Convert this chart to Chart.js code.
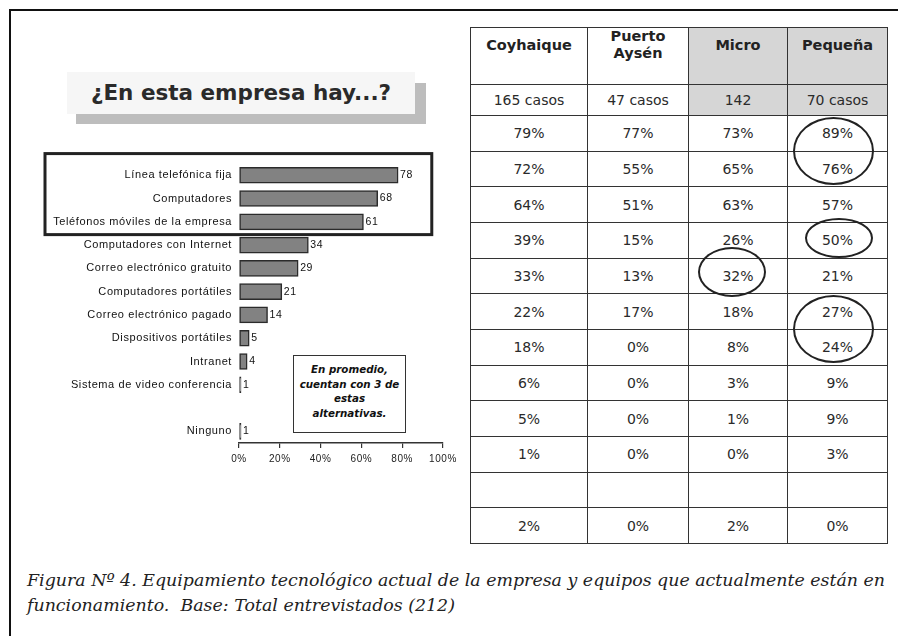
<!DOCTYPE html>
<html><head><meta charset="utf-8">
<script src="https://cdn.jsdelivr.net/npm/chart.js@4"></script>
<style>
html,body{margin:0;padding:0;background:#fff;}
#page{position:relative;width:898px;height:636px;overflow:hidden;background:#fff;font-family:"DejaVu Sans",sans-serif;}
.abs{position:absolute;}
#frameTop{left:9px;top:9px;width:889px;height:2px;background:#111;}
#frameLeft{left:9px;top:9px;width:2px;height:627px;background:#111;}
#titleShadow{left:76px;top:83px;width:350px;height:41px;background:#bdbdbd;}
#titleBox{left:67px;top:72px;width:348px;height:42px;background:#f6f6f6;font:bold 21.5px "DejaVu Sans";color:#2a2a2a;text-align:center;line-height:42px;}
#chartWrap{left:10px;top:150px;width:455px;height:330px;}
#note{left:293px;top:355px;width:111px;height:70px;padding-top:6px;border:1.5px solid #333;background:#fff;font:bold italic 10.3px "DejaVu Sans";color:#111;text-align:center;line-height:14.5px;white-space:nowrap;}
#tbl{left:470px;top:27px;border-collapse:collapse;table-layout:fixed;color:#2a2a2a;}
#tbl td{border:1.5px solid #333;text-align:center;vertical-align:middle;padding:0;font:14px "DejaVu Sans";}
#tbl tr.head td{font:bold 14.5px "DejaVu Sans";color:#222;line-height:17px;padding-bottom:22px;}
#tbl td.gray{background:#d6d6d6;}
#caption{left:27px;top:568px;font:italic 17.4px "DejaVu Serif";color:#222;line-height:25px;white-space:nowrap;}
.ell{position:absolute;border:2px solid #222;border-radius:50%;box-sizing:border-box;}
</style>
</head>
<body>
<div id="page">
  <div id="frameTop" class="abs"></div>
  <div id="frameLeft" class="abs"></div>
  <div id="titleShadow" class="abs"></div>
  <div id="titleBox" class="abs">¿En esta empresa hay...?</div>
  <div id="chartWrap" class="abs"><canvas id="c"></canvas></div>
  <div id="note" class="abs">En promedio,<br>cuentan con 3 de<br>estas<br>alternativas.</div>
  <table id="tbl" class="abs"></table>
  <div id="caption" class="abs">Figura Nº 4. Equipamiento tecnológico actual de la empresa y equipos que actualmente están en<br>funcionamiento.&nbsp; Base: Total entrevistados (212)</div>
</div>
<script>
// ---- data ----
const categories = ["Línea telefónica fija","Computadores","Teléfonos móviles de la empresa","Computadores con Internet","Correo electrónico gratuito","Computadores portátiles","Correo electrónico pagado","Dispositivos portátiles","Intranet","Sistema de video conferencia","","Ninguno"];
const totalPct = [78,68,61,34,29,21,14,5,4,1,null,1];
const xTicks = [0,20,40,60,80,100];

const tableColumns = ["Coyhaique","Puerto Aysén","Micro","Pequeña"];
const tableCases = ["165 casos","47 casos","142","70 casos"];
const coyhaique = [79,72,64,39,33,22,18,6,5,1,null,2];
const puertoAysen = [77,55,51,15,13,17,0,0,0,0,null,0];
const micro = [73,65,63,26,32,18,8,3,1,0,null,2];
const pequena = [89,76,57,50,21,27,24,9,9,3,null,0];
const grayColumns = [2,3];
// highlighted (circled) cells: column index, first row, last row
const circled = [
  {col:3, r0:0, r1:1},
  {col:3, r0:3, r1:3},
  {col:2, r0:4, r1:4},
  {col:3, r0:5, r1:6}
];

// ---- table ----
const tbl = document.getElementById('tbl');
const colW = [117,101,99,100];
const cg = document.createElement('colgroup');
colW.forEach(w=>{const c=document.createElement('col');c.style.width=w+'px';cg.appendChild(c);});
tbl.appendChild(cg);
function addRow(cells, cls, h){
  const tr=document.createElement('tr'); if(cls) tr.className=cls; tr.style.height=h+'px';
  cells.forEach((t,i)=>{const td=document.createElement('td');td.textContent=t;
    if(cls && grayColumns.includes(i)) td.classList.add('gray'); tr.appendChild(td);});
  tbl.appendChild(tr); return tr;
}
addRow(tableColumns,'head',56);
addRow(tableCases,'cases',31);
const cols=[coyhaique,puertoAysen,micro,pequena];
const dataRows=[];
for(let r=0;r<coyhaique.length;r++){
  dataRows.push(addRow(cols.map(c=>c[r]==null?'':c[r]+'%'),'',35.67));
}

// circles
const page=document.getElementById('page');
const pr=page.getBoundingClientRect();
circled.forEach(o=>{
  const a=dataRows[o.r0].children[o.col].getBoundingClientRect();
  const b=dataRows[o.r1].children[o.col].getBoundingClientRect();
  const single=o.r0===o.r1;
  const w=single?68:81;
  const h=single?(o.col===2?50:40):68;
  const cx=(a.left+a.right)/2-pr.left+(single?(o.col===2?-6:1):-4);
  const cy=(a.top+b.bottom)/2-pr.top+(single?(o.col===2?-4:-2):0);
  const e=document.createElement('div'); e.className='ell';
  e.style.left=(cx-w/2)+'px'; e.style.top=(cy-h/2)+'px'; e.style.width=w+'px'; e.style.height=h+'px';
  page.appendChild(e);
});

// ---- chart ----
const spacing={id:'spacing',beforeDraw(chart){chart.ctx.letterSpacing='0.6px';},afterDraw(chart){chart.ctx.letterSpacing='0px';}};
const valueLabels={id:'valueLabels',afterDatasetsDraw(chart){
  const ctx=chart.ctx; const meta=chart.getDatasetMeta(0);
  ctx.save(); ctx.font='10.5px "Liberation Sans"'; ctx.fillStyle='#111'; ctx.textBaseline='middle'; ctx.textAlign='left';
  meta.data.forEach((el,i)=>{ if(totalPct[i]==null) return; ctx.fillText(String(totalPct[i]), el.x+2, el.y); });
  ctx.restore();
}};
const groupBox={id:'groupBox',afterDraw(chart){
  const y=chart.scales.y, x=chart.scales.x, ctx=chart.ctx;
  const band=y.getPixelForValue(1)-y.getPixelForValue(0);
  const top=y.getPixelForValue(0)-band*0.93, bottom=y.getPixelForValue(2)+band*0.55;
  const left=35, right=x.getPixelForValue(94.5);
  ctx.save(); ctx.strokeStyle='#222'; ctx.lineWidth=3; ctx.strokeRect(left,top,right-left,bottom-top); ctx.restore();
}};
new Chart(document.getElementById('c'),{
  type:'bar',
  data:{labels:categories,datasets:[{data:totalPct,backgroundColor:'#828282',borderColor:'#2b2b2b',borderWidth:1.5,borderSkipped:false,barThickness:16}]},
  options:{
    indexAxis:'y',responsive:true,maintainAspectRatio:false,animation:false,
    layout:{padding:{left:0,right:22,top:9,bottom:0}},
    plugins:{legend:{display:false},tooltip:{enabled:false}},
    scales:{
      x:{min:0,max:100,afterBuildTicks:s=>{s.ticks=xTicks.map(v=>({value:v}));},afterFit:s=>{s.height=37;},
        grid:{drawOnChartArea:false,drawTicks:true,tickLength:5,color:'#333',lineWidth:1.2},
        border:{display:true,color:'#333',width:1.5},
        ticks:{callback:v=>v+'%',font:{family:'Liberation Sans',size:10},color:'#222',padding:5}},
      y:{afterFit:s=>{s.width=229;},grid:{display:false,drawTicks:false},border:{display:false},
        ticks:{font:{family:'Liberation Sans',size:11},color:'#111',padding:7,autoSkip:false}}
    }
  },
  plugins:[spacing,valueLabels,groupBox]
});
</script>
</body></html>
